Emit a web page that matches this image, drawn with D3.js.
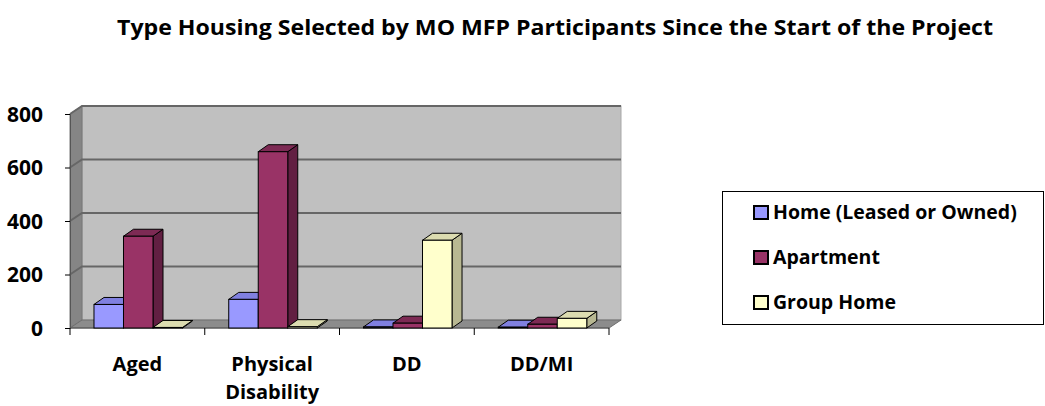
<!DOCTYPE html>
<html>
<head>
<meta charset="utf-8">
<script src="https://cdn.jsdelivr.net/npm/d3@7"></script>
<style>
  body { margin: 0; background: #fff; }
  text { font-family: "Open Sans", "DejaVu Sans", sans-serif; font-weight: bold; fill: #000; }
</style>
</head>
<body>
<svg id="chart" width="1045" height="406"></svg>
<script>
// chart data
var titleText = "Type Housing Selected by MO MFP Participants Since the Start of the Project";
var categories = ["Aged", "Physical Disability", "DD", "DD/MI"];
var seriesNames = ["Home (Leased or Owned)", "Apartment", "Group Home"];
var homeValues = [88, 107, 4, 3];
var apartmentValues = [343, 659, 18, 14];
var groupHomeValues = [2, 5, 328, 36];
var yTicks = [0, 200, 400, 600, 800];

var seriesValues = [homeValues, apartmentValues, groupHomeValues];

// face colours per series: front, top, side
var faces = [
    {front: "#9999ff", top: "#8080e0", side: "#6b6bb8"},
    {front: "#993366", top: "#7d2a54", side: "#621f42"},
    {front: "#ffffcc", top: "#dcdcb0", side: "#b8b892"}
];

var svg = d3.select("#chart");

var plot = {left: 70, right: 609, top: 114, bottom: 328},
    depth = {dx: 12, dy: -8},     // wall depth
    barDepth = {dx: 10, dy: -7};  // bar depth

var x0 = d3.scaleBand().domain(categories).range([plot.left, plot.right]);
var x1 = d3.scaleBand().domain(seriesNames)
    .range([x0.bandwidth() * 0.178, x0.bandwidth() * 0.835]);
var y = d3.scaleLinear().domain([0, 800]).range([plot.bottom, plot.top]);

// title
svg.append("text")
    .attr("x", 555)
    .attr("y", 35)
    .attr("text-anchor", "middle")
    .attr("font-size", 22)
    .attr("textLength", 876)
    .attr("lengthAdjust", "spacingAndGlyphs")
    .text(titleText);

// walls
var g = svg.append("g");

function poly(pts) { return "M" + pts.map(function(p) { return p.join(","); }).join("L") + "Z"; }

// back wall
g.append("rect")
    .attr("x", plot.left + depth.dx)
    .attr("y", y(800) + depth.dy)
    .attr("width", plot.right - plot.left)
    .attr("height", y(0) - y(800))
    .attr("fill", "#c0c0c0")
    .attr("stroke", "#a8a8a8");

// left wall
g.append("path")
    .attr("d", poly([[plot.left, y(0)], [plot.left, y(800)],
        [plot.left + depth.dx, y(800) + depth.dy], [plot.left + depth.dx, y(0) + depth.dy]]))
    .attr("fill", "#858585")
    .attr("stroke", "#777");

// floor
g.append("path")
    .attr("d", poly([[plot.left, y(0)], [plot.right, y(0)],
        [plot.right + depth.dx, y(0) + depth.dy], [plot.left + depth.dx, y(0) + depth.dy]]))
    .attr("fill", "#8c8c8c")
    .attr("stroke", "#6e6e6e");

// gridlines (back wall + left wall)
yTicks.filter(function(t) { return t > 0; }).forEach(function(t) {
    g.append("path")
        .attr("d", "M" + plot.left + "," + y(t) +
            "L" + (plot.left + depth.dx) + "," + (y(t) + depth.dy) +
            "L" + (plot.right + depth.dx) + "," + (y(t) + depth.dy))
        .attr("fill", "none")
        .attr("stroke", "#666")
        .attr("stroke-width", 2);
});

// y axis
var yAxis = d3.axisLeft(y).tickValues(yTicks).tickSize(5).tickPadding(22);
var ya = svg.append("g")
    .attr("transform", "translate(" + plot.left + ",0)")
    .call(yAxis);
ya.select(".domain").attr("stroke", "#555");
ya.selectAll("text").attr("font-size", 21).attr("font-family", null).attr("dy", "0.35em");

// x axis ticks at category boundaries
var bounds = categories.map(function(c) { return x0(c); }).concat([plot.right]);
svg.append("line")
    .attr("x1", plot.left).attr("x2", plot.right)
    .attr("y1", y(0)).attr("y2", y(0))
    .attr("stroke", "#555");
svg.selectAll(".xtick").data(bounds).enter().append("line")
    .attr("x1", function(d) { return d; })
    .attr("x2", function(d) { return d; })
    .attr("y1", y(0))
    .attr("y2", y(0) + 7)
    .attr("stroke", "#000");

// category labels (wrapped to band width)
var catLabels = svg.selectAll(".cat").data(categories).enter().append("text")
    .attr("class", "cat")
    .attr("text-anchor", "middle")
    .attr("font-size", 20)
    .attr("x", function(d) { return x0(d) + x0.bandwidth() / 2; })
    .attr("y", 371);
catLabels.each(function(d) {
    var words = d.split(" ");
    var el = d3.select(this);
    var lines = words.length > 1 && d.length > 10 ? words : [d];
    lines.forEach(function(w, i) {
        el.append("tspan")
            .attr("x", x0(d) + x0.bandwidth() / 2)
            .attr("dy", i ? 28 : 0)
            .text(w);
    });
});

// 3D bars, drawn left to right
var bars = svg.append("g");
categories.forEach(function(cat, ci) {
    seriesNames.forEach(function(s, si) {
        var v = seriesValues[si][ci],
            c = faces[si],
            xa = x0(cat) + x1(s),
            xb = xa + x1.bandwidth(),
            yt = y(v),
            yb = y(0),
            dx = barDepth.dx,
            dy = barDepth.dy;
        bars.append("path")
            .attr("d", poly([[xb, yt], [xb + dx, yt + dy], [xb + dx, yb + dy], [xb, yb]]))
            .attr("fill", c.side).attr("stroke", "#000").attr("stroke-width", 1);
        bars.append("path")
            .attr("d", poly([[xa, yt], [xa + dx, yt + dy], [xb + dx, yt + dy], [xb, yt]]))
            .attr("fill", c.top).attr("stroke", "#000").attr("stroke-width", 1);
        bars.append("rect")
            .attr("x", xa).attr("y", yt)
            .attr("width", xb - xa).attr("height", yb - yt)
            .attr("fill", c.front).attr("stroke", "#000").attr("stroke-width", 1);
    });
});

// legend
var legend = svg.append("g");
legend.append("rect")
    .attr("x", 722.5).attr("y", 191.5)
    .attr("width", 321).attr("height", 133)
    .attr("fill", "#fff").attr("stroke", "#000");
var items = legend.selectAll(".item").data(seriesNames).enter().append("g")
    .attr("transform", function(d, i) { return "translate(754," + (219 + i * 45) + ")"; });
items.append("rect")
    .attr("x", 0).attr("y", -13)
    .attr("width", 14).attr("height", 13)
    .attr("fill", function(d, i) { return faces[i].front; })
    .attr("stroke", "#000").attr("stroke-width", 2);
items.append("text")
    .attr("x", 19).attr("y", 0)
    .attr("font-size", 19.5)
    .text(function(d) { return d; });
</script>
</body>
</html>
